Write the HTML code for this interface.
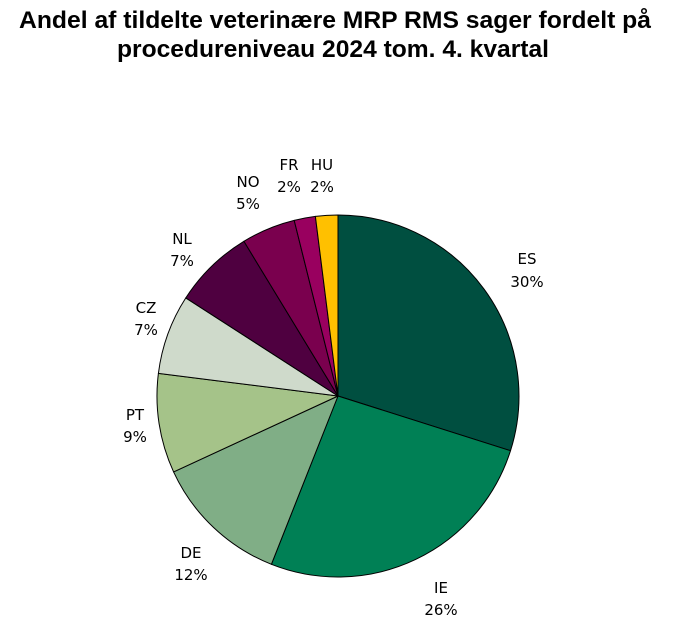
<!DOCTYPE html>
<html><head><meta charset="utf-8"><style>
body{margin:0;background:#fff;width:674px;height:635px;overflow:hidden}
</style></head><body>
<svg width="674" height="635" xmlns="http://www.w3.org/2000/svg">
<g font-family="Liberation Sans, Arial, sans-serif" font-weight="bold" font-size="24" fill="#000">
<text x="19" y="28" textLength="632" lengthAdjust="spacingAndGlyphs">Andel af tildelte veterinære MRP RMS sager fordelt på</text>
<text x="117" y="57" textLength="432" lengthAdjust="spacingAndGlyphs">procedureniveau 2024 tom. 4. kvartal</text>
</g>
<g stroke="#000" stroke-width="1" stroke-linejoin="round">
<path d="M338,396 L338,215 A181,181 0 0 1 510.5,450.7 Z" fill="#004f40"/>
<path d="M338,396 L510.5,450.7 A181,181 0 0 1 271.4,564.3 Z" fill="#008055"/>
<path d="M338,396 L271.4,564.3 A181,181 0 0 1 173.6,471.9 Z" fill="#80ae86"/>
<path d="M338,396 L173.6,471.9 A181,181 0 0 1 158.4,373.4 Z" fill="#a5c389"/>
<path d="M338,396 L158.4,373.4 A181,181 0 0 1 185.8,297.9 Z" fill="#cfdacb"/>
<path d="M338,396 L185.8,297.9 A181,181 0 0 1 243.9,241.3 Z" fill="#4f0040"/>
<path d="M338,396 L243.9,241.3 A181,181 0 0 1 294.2,220.4 Z" fill="#7a004e"/>
<path d="M338,396 L294.2,220.4 A181,181 0 0 1 315.4,216.4 Z" fill="#99005f"/>
<path d="M338,396 L315.4,216.4 A181,181 0 0 1 338,215 Z" fill="#ffc000"/>
</g>
<g font-family="DejaVu Sans, Verdana, sans-serif" font-size="15" text-anchor="middle" fill="#000">
<text x="527" y="264">ES</text><text x="527" y="287">30%</text>
<text x="441" y="593">IE</text><text x="441" y="615">26%</text>
<text x="191" y="558">DE</text><text x="191" y="580">12%</text>
<text x="135" y="420">PT</text><text x="135" y="442">9%</text>
<text x="146" y="313">CZ</text><text x="146" y="335">7%</text>
<text x="182" y="244">NL</text><text x="182" y="266">7%</text>
<text x="248" y="187">NO</text><text x="248" y="209">5%</text>
<text x="289" y="170">FR</text><text x="289" y="192">2%</text>
<text x="322" y="170">HU</text><text x="322" y="192">2%</text>
</g>
</svg>
</body></html>
